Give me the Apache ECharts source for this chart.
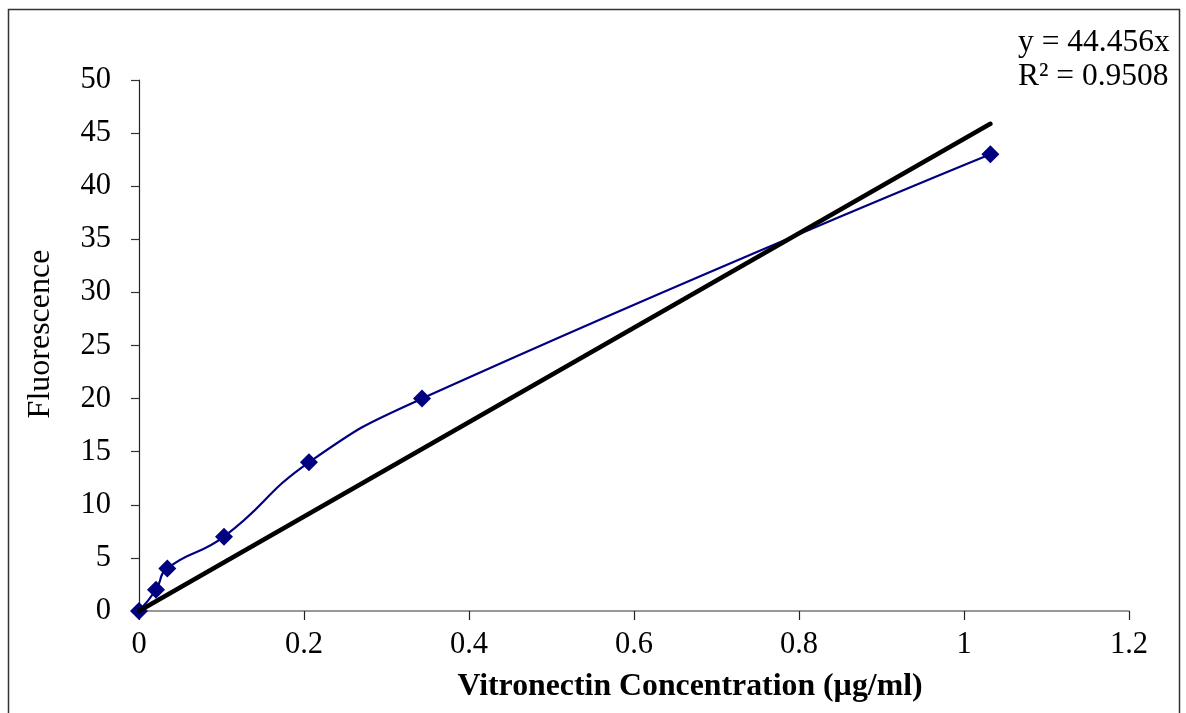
<!DOCTYPE html>
<html>
<head>
<meta charset="utf-8">
<script src="https://cdn.jsdelivr.net/npm/echarts@6/dist/echarts.min.js"></script>
<style>html,body{margin:0;padding:0;background:#fff;}#c{width:1186px;height:713px;}</style>
</head>
<body>
<div id="c"></div>
<script>
var concentrations = [0, 0.0206, 0.0343, 0.103, 0.206, 0.343, 1.032];
var fluorescence = [0, 2, 4, 7, 14, 20, 43];
var trendSlope = 44.456;
var trendLabel = ['y = 44.456x', 'R\u00b2 = 0.9508'];
var xTitle = 'Vitronectin Concentration (\u00b5g/ml)';
var yTitle = 'Fluorescence';

var dataPts = concentrations.map(function (x, i) { return [x, fluorescence[i]]; });
var xMax = concentrations[concentrations.length - 1];
var trendPts = [[0, 0], [xMax, trendSlope * xMax]];

var font = '"Liberation Serif", "Times New Roman", serif';
var chart = echarts.init(document.getElementById('c'), null, {renderer: 'canvas'});
chart.setOption({
  animation: false,
  backgroundColor: '#fff',
  grid: {left: 139, top: 80, right: 57, bottom: 102, containLabel: false},
  xAxis: {
    type: 'value', min: 0, max: 1.2, interval: 0.2,
    axisLine: {show: true, lineStyle: {color: '#777', width: 1.5}},
    axisTick: {show: true, length: 9, inside: false, lineStyle: {color: '#222', width: 1.2}},
    splitLine: {show: false},
    axisLabel: {color: '#000', fontFamily: font, fontSize: 30.5, margin: 18,
      formatter: function (v) { return String(Math.round(v * 10) / 10); }}
  },
  yAxis: {
    type: 'value', min: 0, max: 50, interval: 5,
    axisLine: {show: true, lineStyle: {color: '#222', width: 1.2}},
    axisTick: {show: true, length: 8, inside: false, lineStyle: {color: '#333', width: 1.2}},
    splitLine: {show: false},
    axisLabel: {color: '#000', fontFamily: font, fontSize: 30.5, margin: 28}
  },
  series: [
    {
      type: 'line', data: dataPts, smooth: 0.5,
      symbol: 'diamond', symbolSize: [18, 18], showAllSymbol: true,
      lineStyle: {color: '#000080', width: 2.2},
      itemStyle: {color: '#000080'},
      z: 2
    },
    {
      type: 'line', data: trendPts, symbol: 'none',
      lineStyle: {color: '#000', width: 4.5, cap: 'round'},
      z: 3
    }
  ],
  graphic: [
    {type: 'rect', shape: {x: 8.5, y: 9.5, width: 1171, height: 720},
      style: {fill: 'none', stroke: '#333', lineWidth: 1.5}, silent: true, z: 100},
    {type: 'text', x: 690, y: 687,
      style: {text: xTitle, font: 'bold 31.8px ' + font, fill: '#000', textAlign: 'center', textVerticalAlign: 'middle'}},
    {type: 'text', x: 41, y: 334, rotation: Math.PI / 2,
      style: {text: yTitle, font: '32px ' + font, fill: '#000', textAlign: 'center', textVerticalAlign: 'middle'}},
    {type: 'text', x: 1018, y: 43,
      style: {text: trendLabel[0], font: '31.5px ' + font, fill: '#000', textAlign: 'left', textVerticalAlign: 'middle'}},
    {type: 'text', x: 1018, y: 77,
      style: {text: trendLabel[1], font: '31.5px ' + font, fill: '#000', textAlign: 'left', textVerticalAlign: 'middle'}}
  ]
});
</script>
</body>
</html>
